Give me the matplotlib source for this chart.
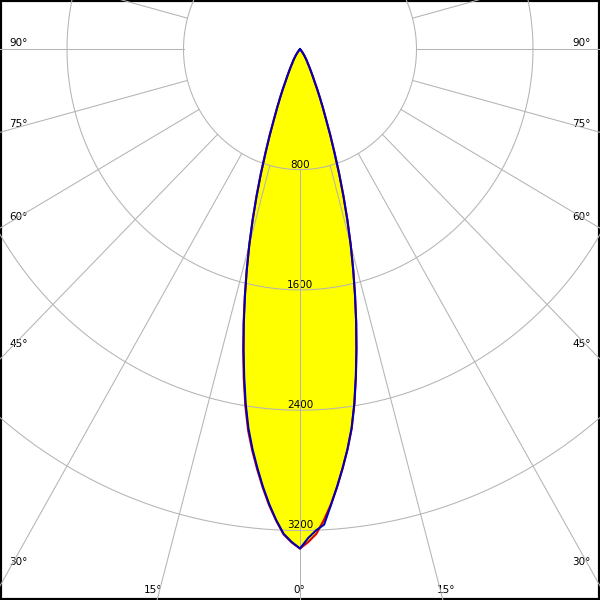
import numpy as np
import matplotlib.pyplot as plt

# polar angles (deg from nadir) and intensities (cd)
angles = [0, 1, 2, 3, 4, 5, 6, 7, 8, 9, 10, 11, 12, 13, 14, 15, 16, 17, 18, 19, 20,
          21, 22, 23, 24, 25, 26, 27, 28, 29, 30, 32, 35, 40, 45, 50, 60, 90, 120, 150, 180]
c180 = [3320, 3280, 3228, 3138, 3040, 2928, 2810, 2690, 2560, 2400, 2225, 2045, 1865, 1685, 1512, 1345,
        1180, 1020, 870, 728, 610, 500, 420, 350, 290, 235, 200, 170, 145, 125, 105, 85, 55, 25, 8, 0,
        0, 0, 0, 0, 0]
c0 = [3320, 3277, 3224, 3134, 3035, 2922, 2802, 2680, 2548, 2388, 2212, 2032, 1856, 1680, 1510, 1345,
      1180, 1020, 870, 728, 610, 500, 420, 350, 290, 235, 200, 170, 145, 125, 105, 85, 55, 25, 8, 0,
      0, 0, 0, 0, 0]
c270 = [3320, 3277, 3224, 3134, 3032, 2920, 2800, 2678, 2545, 2385, 2208, 2030, 1855, 1680, 1510, 1345,
        1180, 1020, 870, 728, 610, 500, 420, 350, 290, 235, 200, 170, 145, 125, 105, 85, 55, 25, 8, 0,
        0, 0, 0, 0, 0]
c90 = [3320, 3250, 3200, 3165, 3040, 2920, 2800, 2678, 2545, 2385, 2208, 2030, 1855, 1680, 1510, 1345,
       1180, 1020, 870, 728, 610, 500, 420, 350, 290, 235, 200, 170, 145, 125, 105, 85, 55, 25, 8, 0,
       0, 0, 0, 0, 0]

rings = [800, 1600, 2400, 3200]
ring_labels = ['800', '1600', '2400', '3200']
angle_ticks = [90, 75, 60, 45, 30, 15, 0]

# cd per pixel (the chart is slightly stretched vertically)
PX_X = 800 / 116.5
PX_Y = 800 / 120.3
CY = 49.3  # pixel row of the centre


def plane_xy(right, left):
    a = np.radians(angles)
    r_right = np.array(right, dtype=float)
    r_left = np.array(left, dtype=float)
    x = np.concatenate([-(r_left * np.sin(a))[::-1], r_right * np.sin(a)])
    y = np.concatenate([-(r_left * np.cos(a))[::-1], -r_right * np.cos(a)])
    return x, y


fig = plt.figure(figsize=(6, 6), dpi=100)
ax = fig.add_axes([0, 0, 1, 1])
ax.set_xlim(-300 * PX_X, 300 * PX_X)
ax.set_ylim(-(600 - CY) * PX_Y, CY * PX_Y)
ax.set_xticks([])
ax.set_yticks([])
for s in ax.spines.values():
    s.set_linewidth(3)
    s.set_color('black')

xr, yr = plane_xy(c0, c180)
xb, yb = plane_xy(c90, c270)
ax.fill(xr, yr, color='#ffff00', lw=0, zorder=1)
ax.fill(xb, yb, color='#ffff00', lw=0, zorder=1)

# grid
gc = '#b4b4b4'
t = np.linspace(0, 2 * np.pi, 721)
for r in rings:
    ax.plot(r * np.cos(t), r * np.sin(t), color=gc, lw=0.75, zorder=3)
for deg in range(0, 360, 15):
    a = np.radians(deg)
    ax.plot([800 * np.sin(a), 8000 * np.sin(a)], [-800 * np.cos(a), -8000 * np.cos(a)],
            color=gc, lw=0.75, zorder=3)

ax.plot(xr, yr, color='#e00000', lw=1.5, zorder=4)
ax.plot(xb, yb, color='#0000b4', lw=1.5, zorder=5)

# ring labels
for r, lab in zip(rings, ring_labels):
    ax.text(0, -r + 2 * PX_Y, lab, ha='center', va='baseline', fontsize=7.5, zorder=2)

# angle labels
edge_x = (300 - 9) * PX_X
low_y = -(565 - CY) * PX_Y
bottom_y = -(593 - CY) * PX_Y
for deg in angle_ticks:
    a = np.radians(deg)
    lab = f'{deg}°'
    if deg >= 30:
        y = -edge_x * np.cos(a) / np.sin(a) + 3 * PX_Y
        y = max(y, low_y)
        ax.text(-edge_x, y, lab, ha='left', va='baseline', fontsize=7.5, zorder=2)
        ax.text(edge_x, y, lab, ha='right', va='baseline', fontsize=7.5, zorder=2)
    elif deg == 0:
        ax.text(-1 * PX_X, bottom_y, lab, ha='center', va='baseline', fontsize=7.5, zorder=2)
    else:
        x = -bottom_y * np.tan(a)
        ax.text(-x - 6 * PX_X, bottom_y, lab, ha='center', va='baseline', fontsize=7.5, zorder=2)
        ax.text(x + 5 * PX_X, bottom_y, lab, ha='center', va='baseline', fontsize=7.5, zorder=2)

fig.savefig('out.png', dpi=100)
